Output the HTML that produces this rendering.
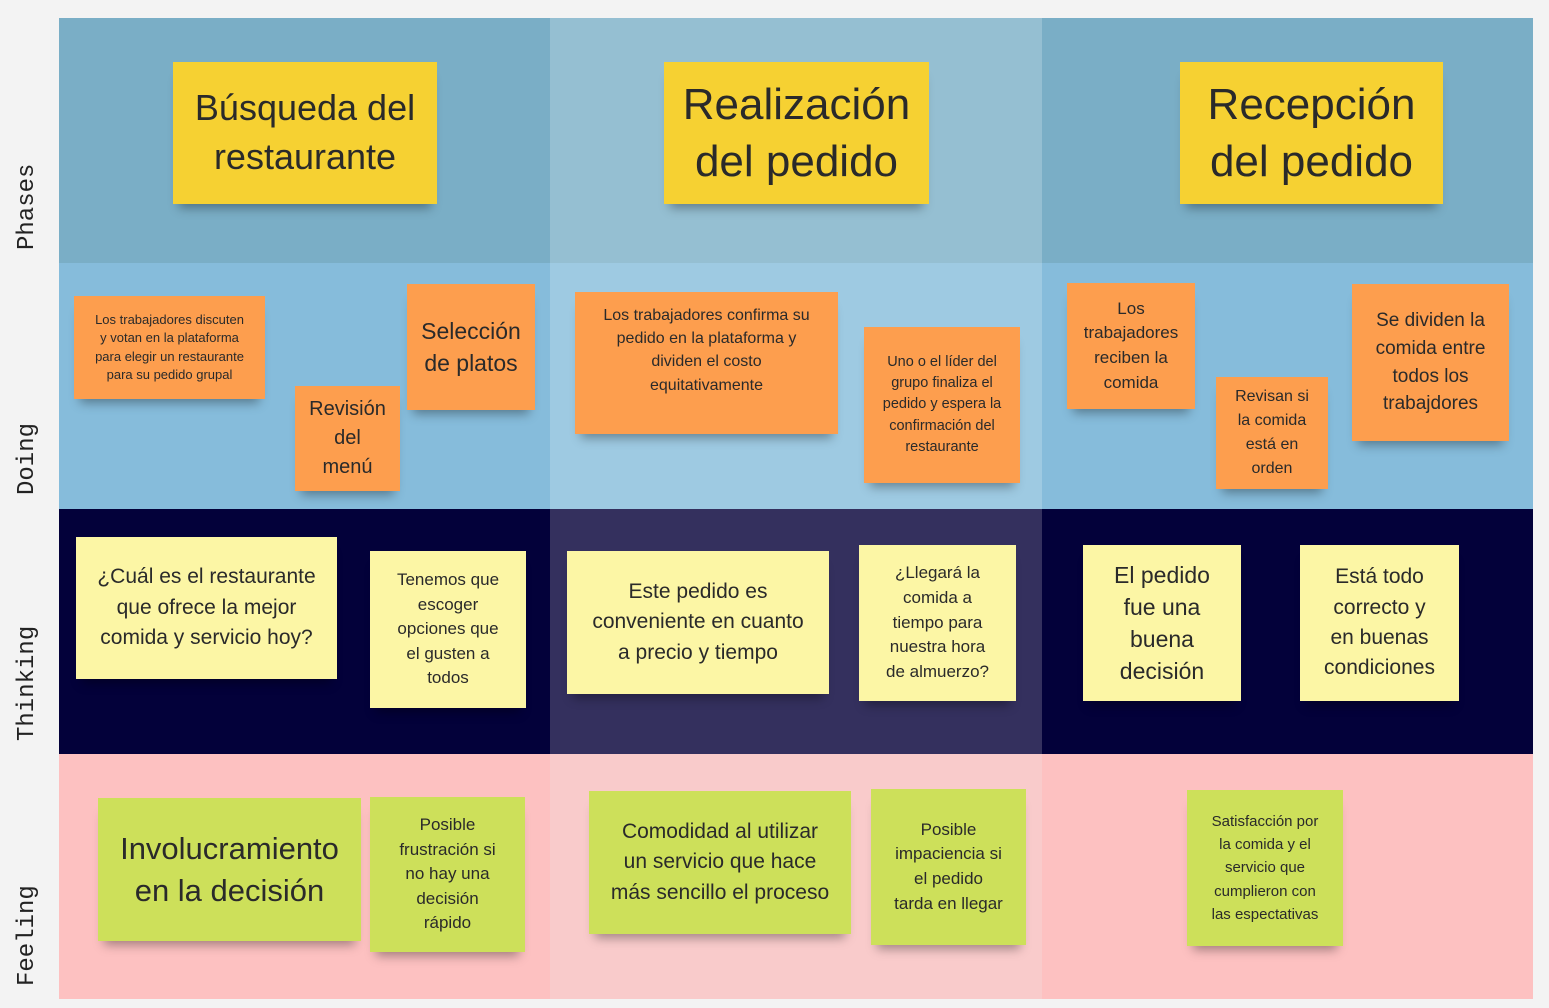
<!DOCTYPE html>
<html><head><meta charset="utf-8"><style>
body{margin:0;width:1549px;height:1008px;background:#f3f3f3;position:relative;overflow:hidden;font-family:"Liberation Sans",sans-serif}
.c{position:absolute}
.lbl{position:absolute;font-family:"Liberation Mono",monospace;font-size:24px;color:#222;transform:rotate(-90deg);transform-origin:left top;white-space:nowrap}
.s{position:absolute;display:flex;align-items:center;justify-content:center;text-align:center;color:#2a2a2a;box-shadow:0 10px 10px -6px rgba(0,0,0,.35);line-height:1.3;box-sizing:border-box;padding:2px;white-space:nowrap}
.y{background:#f6d132}.o{background:#fd9e4e}.l{background:#fcf6a5}.g{background:#cde05a}
</style></head><body>
<div class="c" style="left:59px;top:18px;width:491px;height:245px;background:#7aaec6"></div>
<div class="c" style="left:550px;top:18px;width:492px;height:245px;background:#95bfd2"></div>
<div class="c" style="left:1042px;top:18px;width:491px;height:245px;background:#7aaec6"></div>
<div class="c" style="left:59px;top:263px;width:491px;height:246px;background:#86bcdb"></div>
<div class="c" style="left:550px;top:263px;width:492px;height:246px;background:#9ecae2"></div>
<div class="c" style="left:1042px;top:263px;width:491px;height:246px;background:#86bcdb"></div>
<div class="c" style="left:59px;top:509px;width:491px;height:245px;background:#03013a"></div>
<div class="c" style="left:550px;top:509px;width:492px;height:245px;background:#34305e"></div>
<div class="c" style="left:1042px;top:509px;width:491px;height:245px;background:#03013a"></div>
<div class="c" style="left:59px;top:754px;width:491px;height:245px;background:#fdc1c1"></div>
<div class="c" style="left:550px;top:754px;width:492px;height:245px;background:#f9cbcb"></div>
<div class="c" style="left:1042px;top:754px;width:491px;height:245px;background:#fdc1c1"></div>

<div class="lbl" style="left:14px;top:250px">Phases</div>
<div class="lbl" style="left:14px;top:495px">Doing</div>
<div class="lbl" style="left:14px;top:741px">Thinking</div>
<div class="lbl" style="left:14px;top:986px">Feeling</div>

<div class="s y" style="left:173px;top:62px;width:264px;height:142px;font-size:36px;line-height:1.35">Búsqueda del<br>restaurante</div>
<div class="s y" style="left:664px;top:62px;width:265px;height:142px;font-size:44px;line-height:1.3">Realización<br>del pedido</div>
<div class="s y" style="left:1180px;top:62px;width:263px;height:142px;font-size:44px;line-height:1.3">Recepción<br>del pedido</div>

<div class="s o" style="left:74px;top:296px;width:191px;height:103px;font-size:13px;line-height:1.4">Los trabajadores discuten<br>y votan en la plataforma<br>para elegir un restaurante<br>para su pedido grupal</div>
<div class="s o" style="left:407px;top:284px;width:128px;height:126px;font-size:23px;line-height:1.4">Selección<br>de platos</div>
<div class="s o" style="left:295px;top:386px;width:105px;height:105px;font-size:20px;line-height:1.45">Revisión<br>del<br>menú</div>
<div class="s o" style="left:575px;top:292px;width:263px;height:142px;font-size:16px;align-items:flex-start;padding-top:12px;line-height:1.45">Los trabajadores confirma su<br>pedido en la plataforma y<br>dividen el costo<br>equitativamente</div>
<div class="s o" style="left:864px;top:327px;width:156px;height:156px;font-size:14.5px;line-height:1.45">Uno o el líder del<br>grupo finaliza el<br>pedido y espera la<br>confirmación del<br>restaurante</div>
<div class="s o" style="left:1067px;top:283px;width:128px;height:126px;font-size:17px;line-height:1.45">Los<br>trabajadores<br>reciben la<br>comida</div>
<div class="s o" style="left:1216px;top:377px;width:112px;height:112px;font-size:16px;line-height:1.5">Revisan si<br>la comida<br>está en<br>orden</div>
<div class="s o" style="left:1352px;top:284px;width:157px;height:157px;font-size:19px;line-height:1.45">Se dividen la<br>comida entre<br>todos los<br>trabajdores</div>

<div class="s l" style="left:76px;top:537px;width:261px;height:142px;font-size:21px;line-height:1.45">¿Cuál es el restaurante<br>que ofrece la mejor<br>comida y servicio hoy?</div>
<div class="s l" style="left:370px;top:551px;width:156px;height:157px;font-size:17px;line-height:1.45">Tenemos que<br>escoger<br>opciones que<br>el gusten a<br>todos</div>
<div class="s l" style="left:567px;top:551px;width:262px;height:143px;font-size:21px;line-height:1.45">Este pedido es<br>conveniente en cuanto<br>a precio y tiempo</div>
<div class="s l" style="left:859px;top:545px;width:157px;height:156px;font-size:17px;line-height:1.45">¿Llegará la<br>comida a<br>tiempo para<br>nuestra hora<br>de almuerzo?</div>
<div class="s l" style="left:1083px;top:545px;width:158px;height:156px;font-size:23px;line-height:1.4">El pedido<br>fue una<br>buena<br>decisión</div>
<div class="s l" style="left:1300px;top:545px;width:159px;height:156px;font-size:21px;line-height:1.45">Está todo<br>correcto y<br>en buenas<br>condiciones</div>

<div class="s g" style="left:98px;top:798px;width:263px;height:143px;font-size:31px;line-height:1.35">Involucramiento<br>en la decisión</div>
<div class="s g" style="left:370px;top:797px;width:155px;height:155px;font-size:17px;line-height:1.45">Posible<br>frustración si<br>no hay una<br>decisión<br>rápido</div>
<div class="s g" style="left:589px;top:791px;width:262px;height:143px;font-size:21px;line-height:1.45">Comodidad al utilizar<br>un servicio que hace<br>más sencillo el proceso</div>
<div class="s g" style="left:871px;top:789px;width:155px;height:156px;font-size:17px;line-height:1.45">Posible<br>impaciencia si<br>el pedido<br>tarda en llegar</div>
<div class="s g" style="left:1187px;top:790px;width:156px;height:156px;font-size:15px;line-height:1.55">Satisfacción por<br>la comida y el<br>servicio que<br>cumplieron con<br>las espectativas</div>
</body></html>
